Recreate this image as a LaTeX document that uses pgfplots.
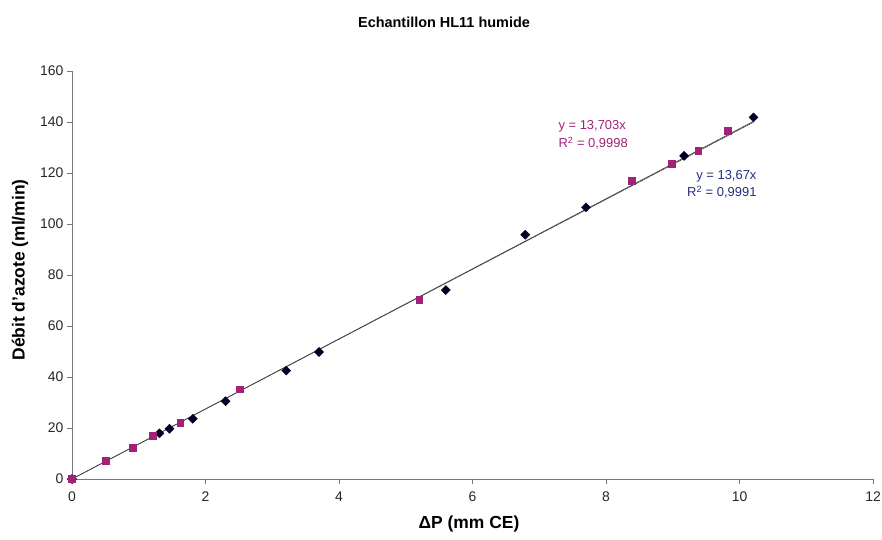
\documentclass[border=0pt]{standalone}
\usepackage{fontspec}
\setmainfont{Liberation Sans}
\usepackage{pgfplots}
\pgfplotsset{compat=1.18}
\definecolor{mag}{RGB}{160,35,120}
\definecolor{navyt}{RGB}{35,45,125}
\definecolor{axgray}{RGB}{120,120,120}
\begin{document}
\begin{tikzpicture}[x=1bp,y=1bp]
\useasboundingbox (0,0) rectangle (882,540);
\begin{axis}[at={(72bp,61bp)}, anchor=south west,
  scale only axis, width=801bp, height=408bp,
  xmin=0, xmax=12, ymin=0, ymax=160,
  xtick={0,2,...,12}, ytick={0,20,...,160},
  axis x line*=bottom, axis y line*=left,
  axis line style={axgray, line width=0.8pt},
  tick style={axgray, line width=0.8pt},
  tick align=outside, major tick length=5bp,
  /pgf/number format/assume math mode=true,
  tick label style={font=\fontsize{14}{16}\selectfont, text=black!85},
  xticklabel style={yshift=-4bp},
  clip=false,
]
\addplot[black!75, line width=0.7pt] coordinates {(0,0) (10.21,140.25)};
\addplot[black!75, line width=0.5pt] coordinates {(0,0) (10.21,139.9)};
\addplot[only marks, mark=square*, mark size=3.2bp, black!85!blue, mark options={fill=black!85!blue, rotate=45}] coordinates {
(0,0) (1.31,17.9) (1.46,19.7) (1.81,23.6) (2.30,30.5) (3.21,42.5) (3.70,49.8)
(5.60,74.1) (6.79,95.8) (7.70,106.5) (9.17,126.7) (10.21,141.8)};
\addplot[only marks, mark=square*, mark size=3.4bp, mag, mark options={fill=mag}] coordinates {
(0,0) (0.51,7.2) (0.91,12.4) (1.21,16.9) (1.62,22.2) (2.51,35.2) (5.20,70.2)
(8.38,117) (8.98,123.5) (9.38,128.7) (9.82,136.6)};
\end{axis}
\node[font=\bfseries\fontsize{14.5}{16}\selectfont] at (444,518) {Echantillon HL11 humide};
\node[font=\bfseries\fontsize{17.5}{19}\selectfont, rotate=90] at (20,270) {Débit d'azote (ml/min)};
\node[font=\bfseries\fontsize{17.5}{19}\selectfont] at (469,16) {ΔP (mm CE)};
\node[anchor=west, text=mag, font=\fontsize{13}{15}\selectfont] at (555,414) {y = 13,703x};
\node[anchor=west, text=mag, font=\fontsize{13}{15}\selectfont] at (555,397) {R\textsuperscript{2} = 0,9998};
\node[anchor=east, text=navyt, font=\fontsize{13}{15}\selectfont] at (760,364) {y = 13,67x};
\node[anchor=east, text=navyt, font=\fontsize{13}{15}\selectfont] at (760,348) {R\textsuperscript{2} = 0,9991};
\end{tikzpicture}
\end{document}
